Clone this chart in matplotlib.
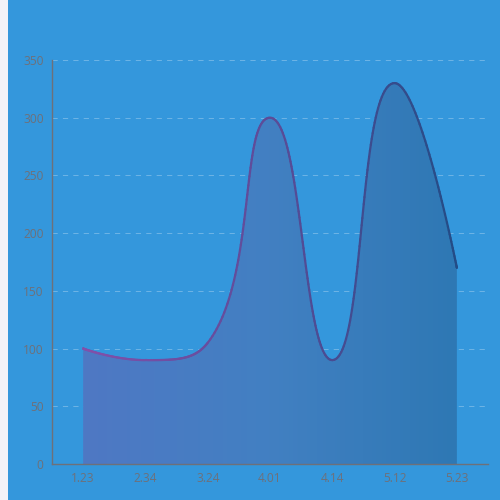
import numpy as np
import matplotlib
matplotlib.use('Agg')
import matplotlib.pyplot as plt
from matplotlib.path import Path
from matplotlib.patches import PathPatch, Rectangle
from matplotlib.collections import LineCollection
from matplotlib.colors import LinearSegmentedColormap

categories = ['1.23', '2.34', '3.24', '4.01', '4.14', '5.12', '5.23']
values = [100, 90, 105, 300, 90, 330, 170]
y_ticks = [0, 50, 100, 150, 200, 250, 300, 350]

plt.rcParams['font.family'] = ['Open Sans', 'DejaVu Sans']

W = 500
fig = plt.figure(figsize=(5, 5), dpi=100)
fig.patch.set_facecolor('#f2f3f8')
fig.patches.append(Rectangle((8 / W, 0), 492 / W, 1, transform=fig.transFigure,
                             facecolor='#3497dc', edgecolor='none', zorder=-10))

ax = fig.add_axes([52 / W, 36 / W, 436 / W, 404 / W])
ax.set_facecolor('none')
ax.set_xlim(-0.5, len(categories) - 0.5)
ax.set_ylim(0, 350)

xs = np.arange(len(categories))
pts = ax.transData.transform(np.column_stack([xs, values]))


def echarts_smooth(points, smooth=0.5):
    n = len(points)
    segs = []
    cpx0, cpy0 = points[0]
    prevX, prevY = points[0]
    for i in range(1, n):
        x, y = points[i]
        if i == n - 1:
            cpx1, cpy1 = x, y
            ncx, ncy = x, y
        else:
            nextX, nextY = points[i + 1]
            vx = nextX - prevX
            vy = nextY - prevY
            dx0, dy0 = x - prevX, y - prevY
            dx1, dy1 = nextX - x, nextY - y
            lp = np.hypot(dx0, dy0)
            ln = np.hypot(dx1, dy1)
            r = ln / (ln + lp)
            ncx = x + vx * smooth * r
            ncy = y + vy * smooth * r
            ncx = min(ncx, max(nextX, x)); ncy = min(ncy, max(nextY, y))
            ncx = max(ncx, min(nextX, x)); ncy = max(ncy, min(nextY, y))
            vx = ncx - x; vy = ncy - y
            cpx1 = x - vx * lp / ln
            cpy1 = y - vy * lp / ln
            cpx1 = min(cpx1, max(prevX, x)); cpy1 = min(cpy1, max(prevY, y))
            cpx1 = max(cpx1, min(prevX, x)); cpy1 = max(cpy1, min(prevY, y))
            vx = x - cpx1; vy = y - cpy1
            ncx = x + vx * ln / lp
            ncy = y + vy * ln / lp
        segs.append(((prevX, prevY), (cpx0, cpy0), (cpx1, cpy1), (x, y)))
        cpx0, cpy0 = ncx, ncy
        prevX, prevY = x, y
    return segs


segs = echarts_smooth(pts)
inv = ax.transData.inverted()

# Build path in data coordinates
verts = [inv.transform(segs[0][0])]
codes = [Path.MOVETO]
samples = []
t = np.linspace(0, 1, 60)[:, None]
for p0, c0, c1, p1 in segs:
    p0, c0, c1, p1 = map(np.array, (p0, c0, c1, p1))
    verts += [inv.transform(c0), inv.transform(c1), inv.transform(p1)]
    codes += [Path.CURVE4] * 3
    b = ((1 - t) ** 3) * p0 + 3 * ((1 - t) ** 2) * t * c0 + 3 * (1 - t) * t ** 2 * c1 + t ** 3 * p1
    samples.append(b)
samples = inv.transform(np.vstack(samples))

# Area fill
area_verts = verts + [(xs[-1], 0), (xs[0], 0), verts[0]]
area_codes = codes + [Path.LINETO, Path.LINETO, Path.CLOSEPOLY]
area_path = Path(area_verts, area_codes)
patch = PathPatch(area_path, facecolor='none', edgecolor='none', transform=ax.transData)
ax.add_patch(patch)

fill_cmap = LinearSegmentedColormap.from_list('fill', ['#4f78c4', '#4280c2', '#2e78b4'])
grad = np.linspace(0, 1, 256)[None, :]
im = ax.imshow(grad, cmap=fill_cmap, extent=[xs[0], xs[-1], 0, 350], aspect='auto',
               origin='lower', zorder=2, interpolation='bilinear')
im.set_clip_path(patch)

# Gradient line
line_cmap = LinearSegmentedColormap.from_list('line', ['#8250aa', '#5c4c98', '#234c86'])
segments = np.stack([samples[:-1], samples[1:]], axis=1)
cvals = (segments[:, 0, 0] - xs[0]) / (xs[-1] - xs[0])
lc = LineCollection(segments, colors=line_cmap(cvals), linewidths=1.6,
                    capstyle='round', joinstyle='round', zorder=3)
ax.add_collection(lc)

# Axes styling
axis_color = '#6e7079'
for s in ['top', 'right']:
    ax.spines[s].set_visible(False)
for s in ['left', 'bottom']:
    ax.spines[s].set_color(axis_color)
    ax.spines[s].set_linewidth(1.0)
    ax.spines[s].set_zorder(4)

ax.set_yticks(y_ticks)
ax.set_yticklabels([str(v) for v in y_ticks])
ax.set_xticks(xs)
ax.set_xticklabels(categories)
ax.tick_params(axis='both', length=0, labelsize=8.6, labelcolor=axis_color)
ax.tick_params(axis='y', pad=6)
ax.tick_params(axis='x', pad=6)

for v in y_ticks[1:]:
    ax.axhline(v, color='white', alpha=0.28, linewidth=0.75, dashes=(5, 5), zorder=1)

fig.savefig('out.png', dpi=100, facecolor=fig.get_facecolor())
